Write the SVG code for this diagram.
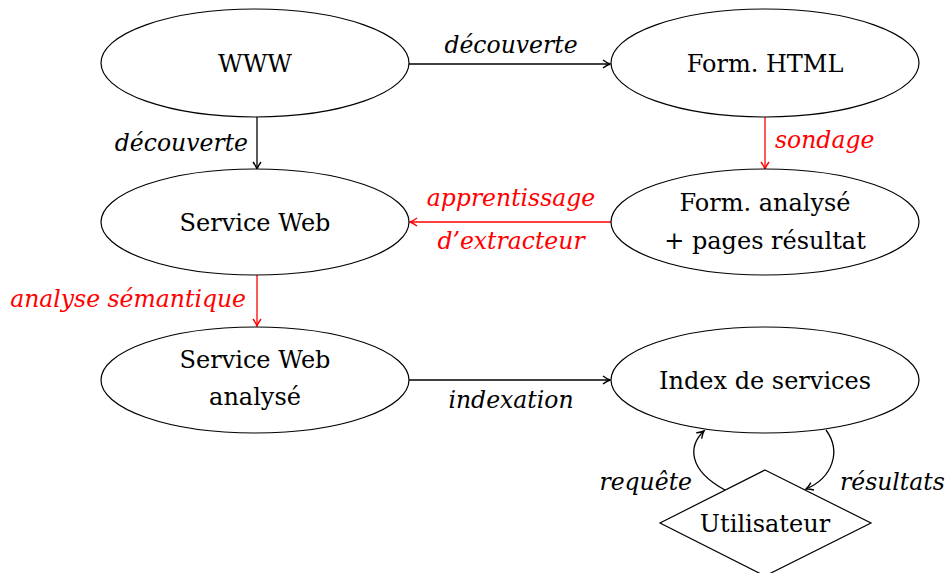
<svg xmlns="http://www.w3.org/2000/svg" width="945" height="573" viewBox="0 0 945 573">
<style>
.n{fill:#fff;stroke:#000;stroke-width:1.2}
.t{font-family:"DejaVu Serif","Liberation Serif",serif;font-size:24px;fill:#000;text-anchor:middle}
.l{font-family:"DejaVu Serif","Liberation Serif",serif;font-size:23.5px;font-style:italic;fill:#000}
.r{fill:#f00}
.e{fill:none;stroke:#000;stroke-width:1.3}
.er{fill:none;stroke:#f00;stroke-width:1.3}
</style>
<defs>
<marker id="ab" markerUnits="userSpaceOnUse" markerWidth="12" markerHeight="12" refX="9" refY="6" orient="auto">
<path d="M2,2 Q6,5 9,6 Q6,7 2,10" fill="none" stroke="#000" stroke-width="1.4"/>
</marker>
<marker id="ar" markerUnits="userSpaceOnUse" markerWidth="12" markerHeight="12" refX="9" refY="6" orient="auto">
<path d="M2,2 Q6,5 9,6 Q6,7 2,10" fill="none" stroke="#f00" stroke-width="1.4"/>
</marker>
</defs>
<g id="connectors">
<line class="e" x1="409" y1="64" x2="610" y2="64" marker-end="url(#ab)"/>
<text class="l" x="511" y="53" text-anchor="middle">découverte</text>
<line class="e" x1="257" y1="117" x2="257" y2="169" marker-end="url(#ab)"/>
<text class="l" x="248" y="151" text-anchor="end">découverte</text>
<line class="er" x1="765" y1="117" x2="765" y2="169" marker-end="url(#ar)"/>
<text class="l r" x="775" y="148">sondage</text>
<line class="er" x1="611" y1="222" x2="410" y2="222" marker-end="url(#ar)"/>
<text class="l r" x="511" y="206" text-anchor="middle">apprentissage</text>
<text class="l r" x="511" y="249" text-anchor="middle">d’extracteur</text>
<line class="er" x1="257" y1="275" x2="257" y2="326" marker-end="url(#ar)"/>
<text class="l r" x="246" y="307" text-anchor="end">analyse sémantique</text>
<line class="e" x1="409" y1="380" x2="610" y2="380" marker-end="url(#ab)"/>
<text class="l" x="511" y="408" text-anchor="middle">indexation</text>
<path class="e" d="M725,490 C688,470 688,446 704,431" marker-end="url(#ab)"/>
<text class="l" x="692" y="490" text-anchor="end">requête</text>
<path class="e" d="M826,430 C842,452 832,478 806,489" marker-end="url(#ab)"/>
<text class="l" x="840" y="490">résultats</text>
</g>
<g id="www"><ellipse class="n" cx="255" cy="63" rx="154" ry="54"/><text class="t" x="255" y="72">WWW</text></g>
<g id="formhtml"><ellipse class="n" cx="765" cy="63" rx="154" ry="54"/><text class="t" x="765" y="72">Form. HTML</text></g>
<g id="serviceweb"><ellipse class="n" cx="255" cy="222" rx="154" ry="53"/><text class="t" x="255" y="231">Service Web</text></g>
<g id="formanalyse"><ellipse class="n" cx="765" cy="222" rx="154" ry="53"/><text class="t" x="765" y="211">Form. analysé</text><text class="t" x="765" y="249">+ pages résultat</text></g>
<g id="swanalyse"><ellipse class="n" cx="255" cy="380" rx="154" ry="53"/><text class="t" x="255" y="368">Service Web</text><text class="t" x="255" y="405">analysé</text></g>
<g id="index"><ellipse class="n" cx="765" cy="380" rx="154" ry="53"/><text class="t" x="765" y="389">Index de services</text></g>
<g id="utilisateur"><polygon class="n" points="765,470 871,523 765,576 660,523"/><text class="t" x="765" y="532">Utilisateur</text></g>
</svg>
